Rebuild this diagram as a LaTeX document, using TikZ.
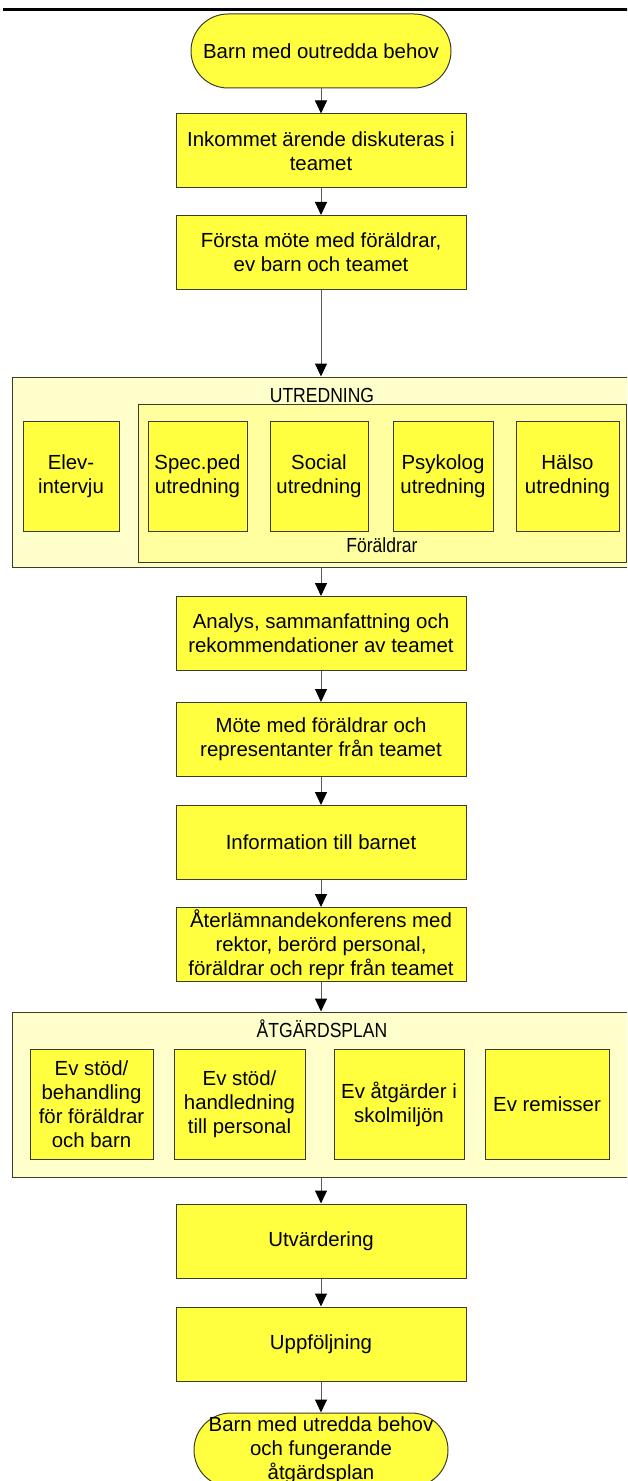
\documentclass[tikz,border=0pt]{standalone}
\usepackage{fontspec}
\usepackage{graphicx}
\setmainfont{Liberation Sans}
\usetikzlibrary{arrows.meta}
\definecolor{boxyellow}{RGB}{255,255,64}
\definecolor{paleyellow}{RGB}{255,255,204}
\definecolor{midyellow}{RGB}{255,255,160}
\definecolor{boxline}{RGB}{60,60,40}
\definecolor{arrowgray}{RGB}{90,90,90}
\newcommand{\narrowtext}[1]{\scalebox{0.86}[1]{#1}}

\begin{document}
\begin{tikzpicture}[x=0.5pt, y=-0.5pt,
                   every node/.style={font=\fontsize{10.2}{12}\selectfont, align=center, inner sep=0pt},
                   task/.style={rectangle, draw=boxline, fill=boxyellow, line width=0.5pt, minimum width=145pt, minimum height=37pt},
                   terminal/.style={rectangle, rounded corners=18.5pt, draw=boxline, fill=boxyellow, line width=0.5pt, minimum height=37pt},
                   part/.style={rectangle, draw=boxline, fill=boxyellow, line width=0.5pt, minimum height=55pt},
                   group/.style={rectangle, draw=boxline, fill=paleyellow, line width=0.5pt},
                   flow/.style={draw=arrowgray, line width=0.5pt, -{Triangle[length=6.5pt, width=6pt, color=black]}}]
\clip (0,0) rectangle (627,1481);
\draw[line width=1.5pt] (3,10) -- (630,10);

\node[terminal, minimum width=130pt] (start) at (321,51) {Barn med outredda behov};
\node[task] (incoming) at (321,151) {Inkommet ärende diskuteras i\\teamet};
\node[task] (firstmeeting) at (321,252.5) {Första möte med föräldrar,\\ev barn och teamet};

\node[group, minimum width=309pt, minimum height=95pt] (inquiry) at (321,472) {};
\node (inquirylabel) at (322,395) {\narrowtext{UTREDNING}};
\node[group, fill=midyellow, minimum width=244pt, minimum height=79pt] (parents) at (382,483) {};
\node (parentslabel) at (382,545) {\narrowtext{Föräldrar}};
\node[part, minimum width=48pt] (pupil) at (71,476) {Elev-\\intervju};
\node[part, minimum width=49.5pt] (specped) at (197.5,476) {Spec.ped\\utredning};
\node[part, minimum width=49pt] (social) at (319,476) {Social\\utredning};
\node[part, minimum width=50pt] (psych) at (443,476) {Psykolog\\utredning};
\node[part, minimum width=51.5pt] (health) at (567.5,476) {Hälso\\utredning};

\node[task] (analysis) at (321,633.5) {Analys, sammanfattning och\\rekommendationer av teamet};
\node[task] (meeting) at (321,739.5) {Möte med föräldrar och\\representanter från teamet};
\node[task] (information) at (321,842.5) {Information till barnet};
\node[task] (feedback) at (321,944.5) {Återlämnandekonferens med\\rektor, berörd personal,\\föräldrar och repr från teamet};

\node[group, minimum width=309pt, minimum height=82.5pt] (plan) at (321,1094.5) {};
\node (planlabel) at (322,1029) {\narrowtext{ÅTGÄRDSPLAN}};
\node[part, minimum width=61.5pt] (support) at (91.5,1104) {Ev stöd/\\behandling\\för föräldrar\\och barn};
\node[part, minimum width=65.5pt] (guidance) at (239.5,1104) {Ev stöd/\\handledning\\till personal};
\node[part, minimum width=65pt] (school) at (399,1104) {Ev åtgärder i\\skolmiljön};
\node[part, minimum width=62pt] (referrals) at (547,1104) {Ev remisser};

\node[task] (evaluation) at (321,1241) {Utvärdering};
\node[task] (followup) at (321,1344) {Uppföljning};
\node[terminal, minimum width=127pt] (finish) at (321,1450) {Barn med utredda behov\\och fungerande\\åtgärdsplan};

\draw[flow] (start) -- (incoming);
\draw[flow] (incoming) -- (firstmeeting);
\draw[flow] (firstmeeting) -- (inquiry);
\draw[flow] (inquiry) -- (analysis);
\draw[flow] (analysis) -- (meeting);
\draw[flow] (meeting) -- (information);
\draw[flow] (information) -- (feedback);
\draw[flow] (feedback) -- (plan);
\draw[flow] (plan) -- (evaluation);
\draw[flow] (evaluation) -- (followup);
\draw[flow] (followup) -- (finish);
\end{tikzpicture}
\end{document}
